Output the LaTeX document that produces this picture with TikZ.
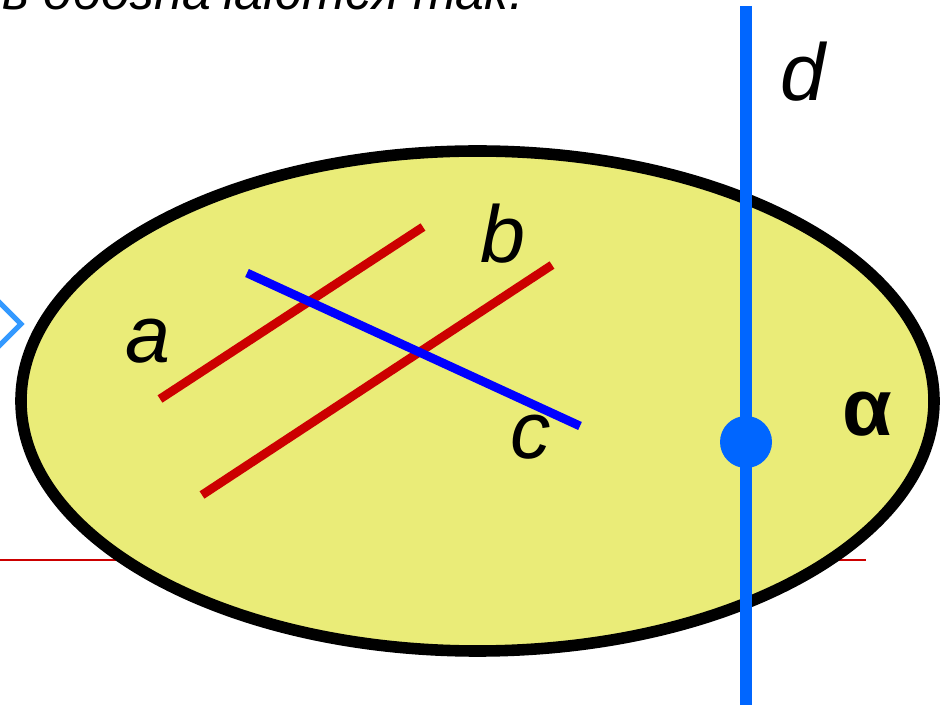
\documentclass[tikz,border=0pt]{standalone}
\usepackage{fontspec}
\setmainfont{Liberation Sans}
\definecolor{planefill}{RGB}{234,236,120}
\definecolor{linered}{RGB}{204,0,0}
\definecolor{lineblue}{RGB}{0,0,255}
\definecolor{skewblue}{RGB}{0,102,255}
\definecolor{markblue}{RGB}{51,153,255}

\begin{document}
\begin{tikzpicture}[x={(0.02cm,0)},y={(0,-0.02cm)},
  lbl/.style={inner sep=0pt,font=\fontsize{46}{46}\selectfont\itshape}]
  \clip (0,0) rectangle (947,705);
  % end points of the lines
  \coordinate (a1) at (160,399); \coordinate (a2) at (423,227);
  \coordinate (b1) at (202,495); \coordinate (b2) at (552,265);
  \coordinate (c1) at (247,273); \coordinate (c2) at (580,426);
  \coordinate (dtop) at (746,6); \coordinate (dbot) at (746,715);
  \coordinate (P) at (746,442);
  \node[anchor=base west,inner sep=0pt,font=\fontsize{29.5}{29.5}\selectfont\itshape] (txt) at (2,10) {в обозначаются так.};
  \draw[linered,line width=1.14pt] (0,560) -- (866,560);
  \draw[markblue,line width=3pt,miter limit=4] (-12,291) -- (21,324) -- (-12,357);
  \draw[line width=6.6pt,fill=planefill] (477.5,401) ellipse [x radius=456.5,y radius=250];
  \foreach \p in {a,b}{
    \draw[linered,line width=5pt] (\p1) -- (\p2);
  }
  \draw[lineblue,line width=5pt] (c1) -- (c2);
  \draw[skewblue,line width=6.9pt] (dtop) -- (dbot);
  \fill[skewblue] (P) circle [radius=26];
  \node[lbl] (la) at (148,341) {a};
  \node[lbl] (lb) at (503,234) {b};
  \node[lbl] (lc) at (531,437) {c};
  \node[lbl] (ld) at (803,72) {d};
  \node[inner sep=0pt,font=\fontsize{46}{46}\selectfont\bfseries] (lalpha) at (867,414) {α};
\end{tikzpicture}
\end{document}
